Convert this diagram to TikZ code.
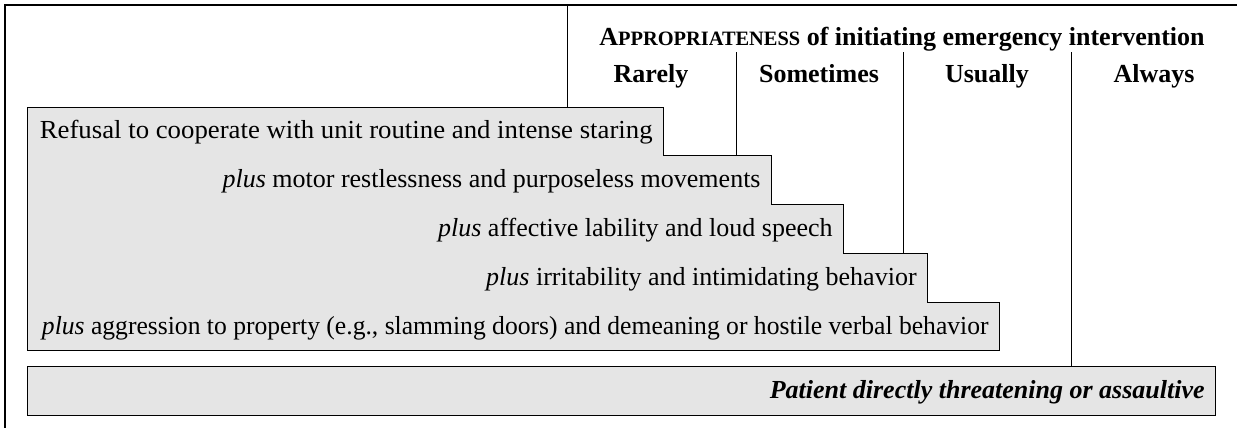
\documentclass[tikz,border=0pt]{standalone}
\usepackage{fontspec}
\setmainfont{Liberation Serif}
\begin{document}
\begin{tikzpicture}[x=0.5pt,y=-0.5pt,
  frame/.style={line width=1pt},
  rule/.style={line width=0.5pt},
  boxfill/.style={fill=gray!20, draw=black, line width=0.5pt},
  rowtext/.style={anchor=base east, inner sep=0pt, font=\fontsize{13}{15}\selectfont},
  colhead/.style={anchor=base, inner sep=0pt, font=\bfseries\fontsize{13}{15}\selectfont}]
\useasboundingbox (0,0) rectangle (1237,428);
% frame (left and top)
\coordinate (fbl) at (5,428);
\coordinate (ftl) at (5,5);
\coordinate (ftr) at (1237,5);
\draw[frame] (fbl) -- (ftl) -- (ftr);
% staircase of behaviours
\draw[boxfill] (27,107) -- (663,107) -- (663,155) -- (771,155) -- (771,204)
  -- (843,204) -- (843,253) -- (927,253) -- (927,302) -- (999,302)
  -- (999,350) -- (27,350) -- cycle;
\node[boxfill, minimum width=594pt, minimum height=24.5pt, anchor=north west, inner sep=0pt] (last) at (27,366) {};
% header
\node[colhead] (hd) at (902,46) {A{\fontsize{10.2}{12}\selectfont PPROPRIATENESS} of initiating emergency intervention};
\node[colhead] (c1) at (651,83) {Rarely};
\node[colhead] (c2) at (819,83) {Sometimes};
\node[colhead] (c3) at (987,83) {Usually};
\node[colhead] (c4) at (1154,83) {Always};
% vertical rules
\coordinate (v0t) at (567,5);   \coordinate (v0b) at (567,107);
\coordinate (v1t) at (736,52);  \coordinate (v1b) at (736,155);
\coordinate (v2t) at (903,52);  \coordinate (v2b) at (903,253);
\coordinate (v3t) at (1071,52); \coordinate (v3b) at (1071,366);
\draw[rule] (v0t) -- (v0b);
\draw[rule] (v1t) -- (v1b);
\draw[rule] (v2t) -- (v2b);
\draw[rule] (v3t) -- (v3b);
% row texts
\node[rowtext] (r1) at (653,138.5) {\scalebox{1.03}[1]{Refusal to cooperate with unit routine and intense staring}};
\node[rowtext] (r2) at (761,187) {\textit{plus} motor restlessness and purposeless movements};
\node[rowtext] (r3) at (833,236) {\textit{plus} affective lability and loud speech};
\node[rowtext] (r4) at (917,285) {\textit{plus} irritability and intimidating behavior};
\node[rowtext] (r5) at (989,334) {\scalebox{0.985}[1]{\textit{plus} aggression to property (e.g., slamming doors) and demeaning or hostile verbal behavior}};
\node[rowtext] (r6) at (1205,398) {\textbf{\textit{Patient directly threatening or assaultive}}};
\end{tikzpicture}
\end{document}
